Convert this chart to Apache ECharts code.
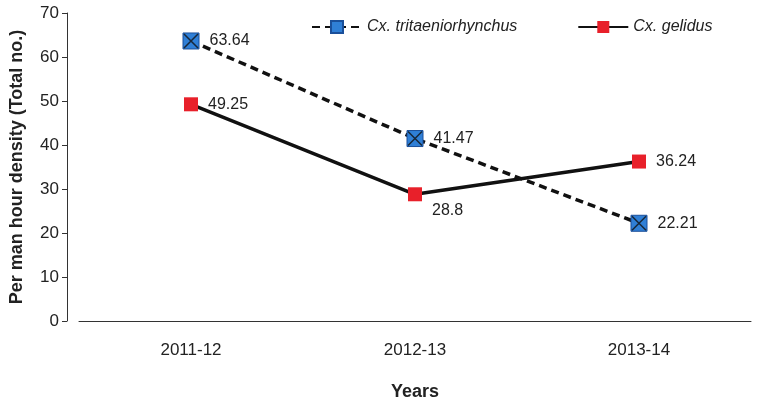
<!DOCTYPE html><html><head><meta charset="utf-8"><script src="https://cdn.jsdelivr.net/npm/echarts@6/dist/echarts.min.js"></script></head><body style="margin:0"><div id="c" style="width:758px;height:406px"></div><script>
var categories=['2011-12','2012-13','2013-14'];
var tritaeniorhynchus=[63.64,41.47,22.21];
var gelidus=[49.25,28.8,36.24];
var yTicks=[0,10,20,30,40,50,60,70];
var ch=echarts.init(document.getElementById('c'));
var xPath='path://M0,0L10,10M10,0L0,10';
var lbl={show:true,position:'right',distance:10,color:'#222',fontSize:16,fontFamily:'Arial'};
var gData=gelidus.map(function(v,i){return i===1?{value:v,label:{position:'right',offset:[0,16]}}:v;});
ch.setOption({
 animation:false,
 grid:{left:74,right:7,top:13,bottom:81},
 legend:{top:14,left:306,itemGap:60,itemWidth:50,itemHeight:15,textStyle:{fontStyle:'italic',fontSize:16,fontFamily:'Arial',color:'#222'},data:['Cx. tritaeniorhynchus','Cx. gelidus']},
 xAxis:{type:'category',data:categories,axisTick:{show:false},axisLine:{lineStyle:{color:'#333'}},axisLabel:{fontSize:17,color:'#222',fontFamily:'Arial',margin:21},name:'Years',nameLocation:'middle',nameGap:62,nameTextStyle:{fontSize:18,fontWeight:'bold',color:'#222',fontFamily:'Arial'}},
 yAxis:{type:'value',min:0,max:70,interval:10,offset:12,splitLine:{show:false},axisLine:{show:true,lineStyle:{color:'#333'}},axisTick:{show:true,length:5},axisLabel:{fontSize:17,color:'#222',fontFamily:'Arial',formatter:function(v){return yTicks.indexOf(v)>=0?v:'';}},name:'Per man hour density (Total no.)',nameLocation:'middle',nameGap:41,nameTextStyle:{fontSize:18,fontWeight:'bold',color:'#222',fontFamily:'Arial'}},
 series:[
  {name:'Cx. tritaeniorhynchus',type:'line',data:tritaeniorhynchus,symbol:'rect',symbolSize:16,itemStyle:{color:'#2f7fd6',borderColor:'#1a4f9a',borderWidth:1},lineStyle:{color:'#111',width:3.5,type:[8,5]},label:lbl,z:3},
  {type:'scatter',data:tritaeniorhynchus,symbol:xPath,symbolSize:14,itemStyle:{color:'none',borderColor:'#111',borderWidth:1.5},silent:true,z:4},
  {name:'Cx. gelidus',type:'line',data:gData,symbol:'rect',symbolSize:14,itemStyle:{color:'#e8202a'},lineStyle:{color:'#111',width:3.5},label:lbl,z:2}
 ]
});
</script></body></html>
